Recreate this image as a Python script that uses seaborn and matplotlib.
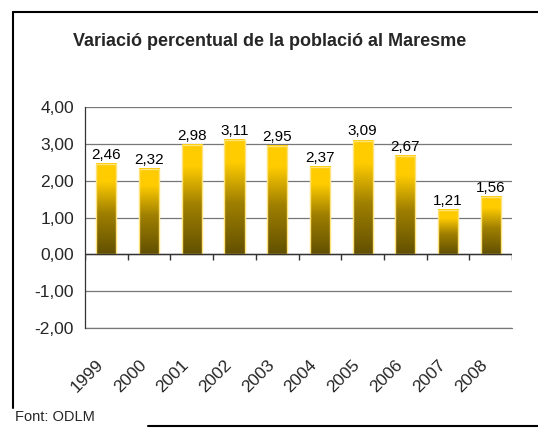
import numpy as np
import pandas as pd
import seaborn as sns
import matplotlib.pyplot as plt
from matplotlib.colors import LinearSegmentedColormap
from matplotlib.lines import Line2D

# Dades
anys = ["1999", "2000", "2001", "2002", "2003", "2004", "2005", "2006", "2007", "2008"]
variacio = [2.46, 2.32, 2.98, 3.11, 2.95, 2.37, 3.09, 2.67, 1.21, 1.56]
etiquetes = ["2,46", "2,32", "2,98", "3,11", "2,95", "2,37", "3,09", "2,67", "1,21", "1,56"]
yticks = [-2, -1, 0, 1, 2, 3, 4]
ytick_labels = ["-2,00", "-1,00", "0,00", "1,00", "2,00", "3,00", "4,00"]

df = pd.DataFrame({"Any": anys, "Variacio": variacio})

sns.set_style("white")
plt.rcParams["font.family"] = ["Liberation Sans", "DejaVu Sans"]

fig = plt.figure(figsize=(5.38, 4.28), dpi=100)
ax = fig.add_axes([0.158, 0.2336, 0.794, 0.516])

sns.barplot(data=df, x="Any", y="Variacio", width=0.47, color="#FFCC00", ax=ax)

# degradat groc -> marró fosc
cmap = LinearSegmentedColormap.from_list(
    "or", [(0, "#625000"), (0.45, "#A08000"), (0.8, "#FFCC00"), (1, "#FFCC00")])
grad = np.linspace(0, 1, 256).reshape(-1, 1)
for p in ax.patches:
    x, y = p.get_x(), p.get_y()
    w, h = p.get_width(), p.get_height()
    ax.imshow(grad, extent=[x, x + w, y, y + h], origin="lower", cmap=cmap,
              aspect="auto", zorder=2)
    p.set_facecolor("none")
    p.set_edgecolor("#FFE37A")
    p.set_linewidth(1.0)
    p.set_zorder(3)

for i, (v, t) in enumerate(zip(variacio, etiquetes)):
    ax.text(i, v + 0.06, t, ha="center", va="bottom", fontsize=11, color="black")

ax.set_xlim(-0.5, 9.5)
ax.set_ylim(-2, 4)
ax.set_yticks(yticks)
ax.set_yticklabels(ytick_labels, fontsize=12.5)
ax.yaxis.grid(True, color="#777777", linewidth=0.9)
ax.set_axisbelow(True)
ax.axhline(-2, color="#777777", linewidth=0.9, clip_on=False)
ax.axhline(0, color="#333333", linewidth=1.0, zorder=4)
ax.vlines(np.arange(-0.5, 10, 1), -0.16, 0, color="#333333", linewidth=1.0, zorder=4)

ax.tick_params(axis="y", length=5, width=0.9, color="#333333", pad=3)
ax.tick_params(axis="x", length=0, pad=21)
ax.set_xticks(range(len(anys)))
ax.set_xticklabels(anys, rotation=45, ha="right", fontsize=12.5)
ax.set_xlabel("")
ax.set_ylabel("")
for s in ["top", "right", "bottom"]:
    ax.spines[s].set_visible(False)
ax.spines["left"].set_color("#333333")
ax.spines["left"].set_linewidth(0.9)

fig.text(0.502, 0.902, "Variació percentual de la població al Maresme",
         ha="center", va="center", fontsize=13, fontweight="bold")
fig.text(0.028, 0.01, "Font: ODLM", ha="left", va="bottom", fontsize=10.5)

# marc exterior
fig.add_artist(Line2D([13 / 538, 13 / 538], [1 - 408 / 428, 1 - 12 / 428], color="black", linewidth=1.5))
fig.add_artist(Line2D([13 / 538, 1], [1 - 12 / 428, 1 - 12 / 428], color="black", linewidth=1.5))
fig.add_artist(Line2D([148 / 538, 1], [1 - 426 / 428, 1 - 426 / 428], color="black", linewidth=1.5))

fig.savefig("out.png", dpi=100)
